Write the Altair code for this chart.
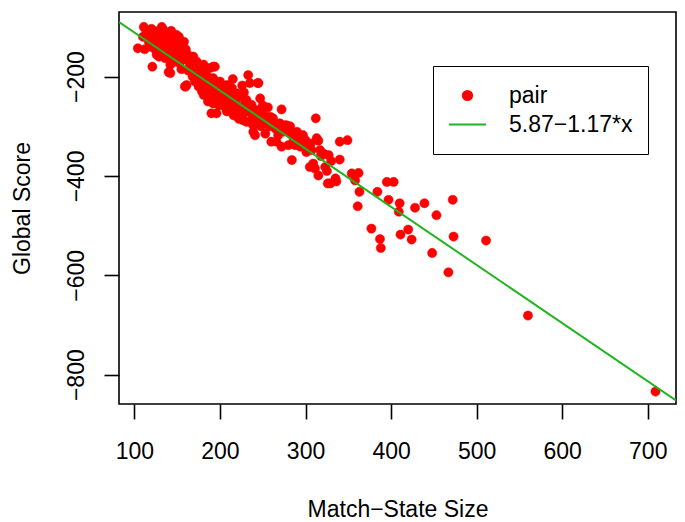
import altair as alt
import pandas as pd

# ---- data ----
match_size = [
    111, 104, 112, 118, 126, 134, 122, 130, 141, 149, 134, 141, 151, 126, 136, 141, 153, 161, 121, 140,
    115, 120, 128, 137, 145, 124, 131, 138, 146, 117, 110, 114, 132, 127, 143, 148, 155, 157, 150, 135,
    119, 125, 139, 144, 152, 158, 129, 147, 160, 163,
    167, 173, 165, 177, 188, 194, 190, 183, 161, 179, 190, 196, 149, 161, 169, 142, 153, 181, 192, 173,
    142, 171, 177, 159, 175, 184, 192, 181, 188, 192, 190, 196, 160, 170, 185, 178, 168, 186, 198, 163,
    155, 182, 195, 199,
    233, 235, 245, 192, 196, 200, 208, 216, 204, 212, 223, 231, 247, 220, 227, 231, 247, 239, 244, 200,
    208, 214, 220, 223, 202, 206, 214, 229, 237, 241, 249, 231, 227, 235, 239, 241, 210, 218, 225, 205,
    212, 228, 238, 244, 216, 222, 208, 234, 250, 226, 215, 203,
    255, 262, 272, 270, 278, 260, 282, 290, 296, 272, 280, 294, 301, 313, 312, 259, 276, 282, 274, 297,
    266, 288, 315, 340, 349, 301, 307, 317, 321, 327, 284, 340, 305, 311, 323, 315, 335, 354, 362, 309,
    326, 336, 329, 252, 258, 265, 268, 286, 292, 300, 306, 318, 330, 325, 256, 264, 248, 253,
    358, 363, 361, 377, 384, 387, 388, 395, 403, 397, 410, 409, 411, 420, 424, 428, 439, 448, 453, 467,
    472, 473, 511, 560, 709,
]
global_score = [
    -100, -143, -145, -112, -109, -106, -126, -122, -119, -116, -136, -139, -132, -156, -163, -160, -150, -156, -180, -191,
    -118, -104, -115, -112, -125, -135, -142, -128, -145, -131, -120, -108, -100, -130, -108, -138, -142, -165, -154, -150,
    -140, -147, -146, -152, -120, -130, -160, -170, -145, -168,
    -160, -170, -176, -193, -183, -180, -210, -213, -217, -230, -227, -220, -156, -153, -160, -176, -173, -176, -180, -187,
    -193, -210, -207, -220, -220, -223, -227, -237, -240, -254, -274, -274, -220, -195, -200, -215, -200, -250, -245, -188,
    -185, -190, -233, -258,
    -197, -213, -213, -203, -213, -220, -227, -234, -247, -257, -240, -247, -244, -267, -274, -291, -267, -298, -213, -210,
    -217, -223, -234, -240, -250, -261, -267, -254, -257, -267, -274, -271, -288, -291, -311, -318, -240, -250, -262, -232,
    -245, -232, -278, -285, -278, -285, -270, -265, -258, -218, -205, -228,
    -281, -284, -266, -294, -298, -331, -314, -311, -321, -341, -338, -341, -338, -324, -284, -281, -298, -300, -311, -318,
    -331, -338, -329, -331, -328, -352, -348, -348, -355, -358, -368, -367, -382, -385, -382, -399, -405, -395, -394, -375,
    -415, -411, -415, -290, -300, -305, -318, -325, -330, -328, -335, -360, -370, -390, -262, -296, -300, -315,
    -409, -432, -461, -506, -432, -527, -545, -412, -412, -448, -455, -472, -518, -508, -528, -464, -455, -555, -479, -594,
    -448, -522, -530, -681, -834,
]
series_names = ["pair", "5.87\u22121.17*x"]
series_colors = ["#FF0000", "#1FB51F"]
series_shapes = ["circle", "stroke"]
series_sizes = [85, 1369]
fit_intercept = 5.87
fit_slope = -1.17
x_domain = [82, 733]
y_domain = [-859, -70]
x_ticks = [100, 200, 300, 400, 500, 600, 700]
y_ticks = [-200, -400, -600, -800]

points = pd.DataFrame({"x": match_size, "y": global_score, "series": series_names[0]})
fit = pd.DataFrame({
    "x": x_domain,
    "y": [fit_intercept + fit_slope * v for v in x_domain],
})

FONT = "Liberation Sans"
FS = 23

x_scale = alt.Scale(domain=x_domain, nice=False, zero=False)
y_scale = alt.Scale(domain=y_domain, nice=False, zero=False)

x_axis = alt.Axis(
    values=x_ticks, format="d", title="Match\u2212State Size",
    labelPadding=21, titleX=278.5, titleY=112, titleBaseline="alphabetic",
    titleAlign="center", titleAnchor="middle",
)
y_axis = alt.Axis(
    values=y_ticks, format="d", title="Global Score",
    labelAngle=270, labelAlign="center", labelBaseline="alphabetic", labelPadding=21,
    titleAngle=270, titleX=-89.5, titleY=196, titleBaseline="alphabetic", titleAlign="center",
)

legend = alt.Legend(
    title=None, orient="none", legendX=314, legendY=54,
    strokeColor="black", fillColor="white", padding=15,
    labelFont=FONT, labelFontSize=FS, labelColor="black", labelOffset=22,
    clipHeight=29, rowPadding=0, symbolStrokeWidth=2, symbolOpacity=1,
)

enc_field = "series:N"
pts_layer = alt.Chart(points).mark_point(filled=True, opacity=1, strokeWidth=0.5).encode(
    x=alt.X("x:Q", scale=x_scale, axis=x_axis),
    y=alt.Y("y:Q", scale=y_scale, axis=y_axis),
    fill=alt.Fill(enc_field, scale=alt.Scale(domain=series_names, range=series_colors), legend=legend),
    stroke=alt.Stroke(enc_field, scale=alt.Scale(domain=series_names, range=series_colors), legend=legend),
    shape=alt.Shape(enc_field, scale=alt.Scale(domain=series_names, range=series_shapes), legend=legend),
    size=alt.Size(enc_field, scale=alt.Scale(domain=series_names, range=series_sizes), legend=legend),
)

line_layer = alt.Chart(fit).mark_line(color=series_colors[1], strokeWidth=2, clip=True).encode(
    x=alt.X("x:Q", scale=x_scale),
    y=alt.Y("y:Q", scale=y_scale),
)

chart = alt.layer(pts_layer, line_layer).properties(
    width=557, height=392,
    autosize=alt.AutoSizeParams(type="none"),
    padding={"left": 111, "top": 4, "right": 1, "bottom": 118},
).configure_view(
    stroke="black", strokeWidth=1.6,
).configure_axis(
    grid=False, domain=False, tickColor="black", tickWidth=1.6, tickSize=15,
    labelFont=FONT, labelFontSize=FS, labelColor="black",
    titleFont=FONT, titleFontSize=FS, titleColor="black", titleFontWeight="normal",
)

chart.save("out.html", embed_options={"renderer": "svg", "actions": False})
